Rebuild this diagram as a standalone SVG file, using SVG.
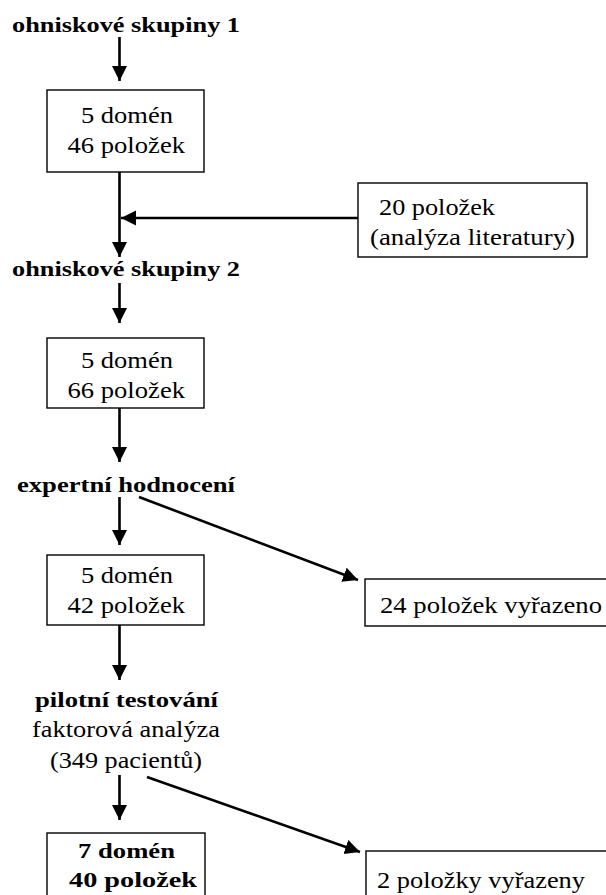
<svg xmlns="http://www.w3.org/2000/svg" width="606" height="895" viewBox="0 0 606 895">
<defs>
<marker id="ah" markerUnits="userSpaceOnUse" markerWidth="16" markerHeight="16" refX="15" refY="7.5" orient="auto" viewBox="0 0 16 16">
<path d="M0,0 L15,7.5 L0,15 z" fill="#000"/>
</marker>
<style>
.b{font-weight:bold;font-size:21px}
.box{fill:#fff;stroke:#000;stroke-width:1.4}
.c{stroke:#000;stroke-width:2.6;fill:none;marker-end:url(#ah)}
</style>
</defs>
<rect width="606" height="895" fill="#fff"/>
<g id="connectors">
<line class="c" x1="119.5" y1="37" x2="119.5" y2="81"/>
<line class="c" x1="119.5" y1="172" x2="119.5" y2="257"/>
<line class="c" x1="358" y1="218" x2="121" y2="218"/>
<line class="c" x1="119.5" y1="283" x2="119.5" y2="323"/>
<line class="c" x1="119.5" y1="408" x2="119.5" y2="462"/>
<line class="c" x1="119.5" y1="497" x2="119.5" y2="545"/>
<line class="c" x1="139" y1="497" x2="358" y2="580"/>
<line class="c" x1="119.5" y1="625" x2="119.5" y2="680"/>
<line class="c" x1="119.5" y1="775" x2="119.5" y2="820"/>
<line class="c" x1="147" y1="777" x2="360" y2="852"/>
</g>
<g font-family="Liberation Serif, Times New Roman, serif" font-size="23" fill="#000">
<g id="title1"><text class="b" x="12" y="31.5" textLength="228" lengthAdjust="spacingAndGlyphs">ohniskové skupiny 1</text></g>
<g id="box1">
<rect class="box" x="47" y="90" width="157" height="82"/>
<text x="81" y="123" textLength="92" lengthAdjust="spacingAndGlyphs">5 domén</text>
<text x="67.5" y="153" textLength="117.5" lengthAdjust="spacingAndGlyphs">46 položek</text>
</g>
<g id="literature">
<rect class="box" x="358" y="183" width="229" height="74"/>
<text x="379" y="215" textLength="116" lengthAdjust="spacingAndGlyphs">20 položek</text>
<text x="370" y="245" textLength="205" lengthAdjust="spacingAndGlyphs">(analýza literatury)</text>
</g>
<g id="title2"><text class="b" x="12" y="275.5" textLength="228" lengthAdjust="spacingAndGlyphs">ohniskové skupiny 2</text></g>
<g id="box2">
<rect class="box" x="47" y="338" width="157" height="70"/>
<text x="81" y="368" textLength="92" lengthAdjust="spacingAndGlyphs">5 domén</text>
<text x="67.5" y="398" textLength="117.5" lengthAdjust="spacingAndGlyphs">66 položek</text>
</g>
<g id="expert"><text class="b" x="17" y="492" textLength="218" lengthAdjust="spacingAndGlyphs">expertní hodnocení</text></g>
<g id="box3">
<rect class="box" x="47" y="555" width="157" height="70"/>
<text x="81" y="583" textLength="92" lengthAdjust="spacingAndGlyphs">5 domén</text>
<text x="67.5" y="613" textLength="117.5" lengthAdjust="spacingAndGlyphs">42 položek</text>
</g>
<g id="removed24">
<rect class="box" x="365" y="579" width="260" height="47"/>
<text x="380" y="613" textLength="222" lengthAdjust="spacingAndGlyphs">24 položek vyřazeno</text>
</g>
<g id="pilot">
<text class="b" x="35" y="707" textLength="183" lengthAdjust="spacingAndGlyphs">pilotní testování</text>
<text x="32" y="737" textLength="188" lengthAdjust="spacingAndGlyphs">faktorová analýza</text>
<text x="50" y="768" textLength="152" lengthAdjust="spacingAndGlyphs">(349 pacientů)</text>
</g>
<g id="box4">
<rect class="box" x="47" y="833" width="158" height="80"/>
<text class="b" x="78" y="858" textLength="97" lengthAdjust="spacingAndGlyphs">7 domén</text>
<text class="b" x="69" y="887" textLength="128" lengthAdjust="spacingAndGlyphs">40 položek</text>
</g>
<g id="removed2">
<rect class="box" x="366" y="851" width="260" height="60"/>
<text x="377" y="888" textLength="208" lengthAdjust="spacingAndGlyphs">2 položky vyřazeny</text>
</g>
</g>
</svg>
